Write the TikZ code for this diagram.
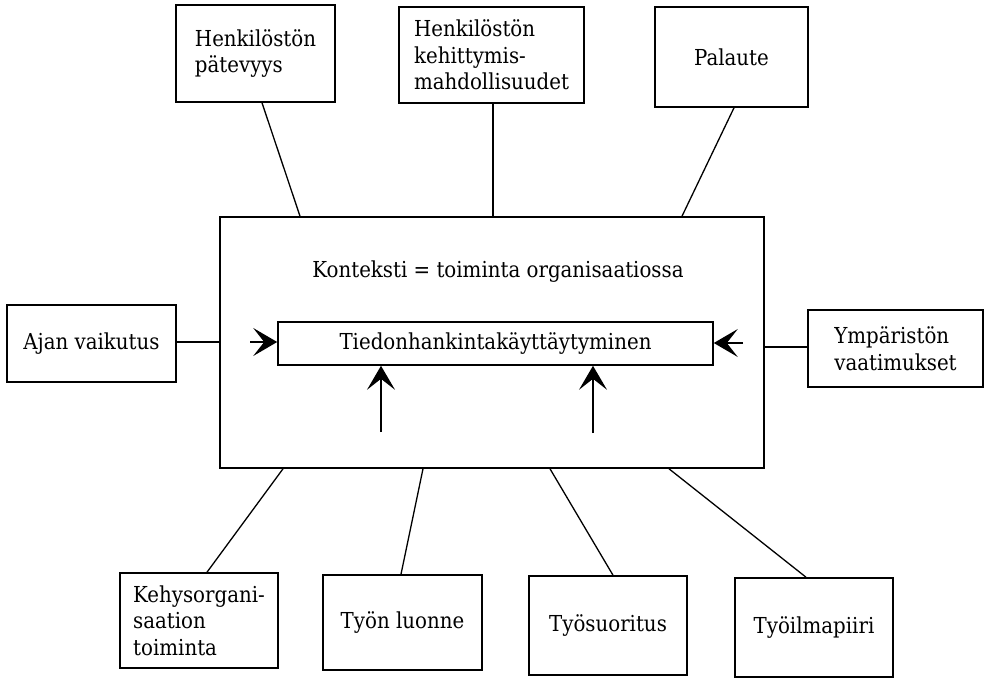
\documentclass[tikz,border=0pt]{standalone}
\usepackage{fontspec}
\setmainfont{DejaVu Serif Condensed}
\usetikzlibrary{arrows.meta}
\begin{document}
\begin{tikzpicture}[x=1bp,y=-1bp,
  box/.style={draw,line width=1.6bp,inner sep=0pt,align=left,font=\fontsize{22bp}{26.5bp}\selectfont},
  conn/.style={line width=1.3bp},
  barb/.style={line width=1.3bp,-{Stealth[length=24bp,width=28bp,inset=11bp]}},
  lbl/.style={font=\fontsize{22bp}{26.5bp}\selectfont,inner sep=0pt}]
\useasboundingbox (0,0) rectangle (984,679);
% main context box
\node[box,minimum width=544bp,minimum height=251bp] (main) at (492,342.5) {};
\node[lbl] (title) at (498,272) {Konteksti = toiminta organisaatiossa};
\node[box,minimum width=435bp,minimum height=43bp,align=center] (inner) at (495.5,343.5) {Tiedonhankintakäyttäytyminen};
% top boxes
\node[box,minimum width=159bp,minimum height=97bp] (b1) at (255.5,53.5) {Henkilöstön\\pätevyys};
\node[box,minimum width=185bp,minimum height=96bp] (b2) at (491.5,55) {Henkilöstön\\kehittymis-\\mahdollisuudet};
\node[box,minimum width=153bp,minimum height=100bp] (b3) at (731.5,57) {Palaute};
% side boxes
\node[box,minimum width=169bp,minimum height=77bp] (ajan) at (91.5,343.5) {Ajan vaikutus};
\node[box,minimum width=175bp,minimum height=77bp] (ymp) at (895.5,348.5) {Ympäristön\\vaatimukset};
% bottom boxes
\node[box,minimum width=158bp,minimum height=95bp] (k1) at (199,620.5) {Kehysorgani-\\saation\\toiminta};
\node[box,minimum width=159bp,minimum height=95bp] (k2) at (402.5,622.5) {Työn luonne};
\node[box,minimum width=158bp,minimum height=99bp] (k3) at (608,625.5) {Työsuoritus};
\node[box,minimum width=158bp,minimum height=99bp] (k4) at (814,627.5) {Työilmapiiri};
% connectors top
\draw[conn] (b1.south -| 262,0) -- (main.north -| 300,0);
\draw[conn] (b2.south -| 493,0) -- (main.north -| 493,0);
\draw[conn] (b3.south -| 734,0) -- (main.north -| 682,0);
% side connectors
\draw[conn] (ajan.east |- 0,342) -- (main.west |- 0,342);
\draw[conn] (ymp.west |- 0,347) -- (main.east |- 0,347);
% bottom connectors
\draw[conn] (main.south -| 283,0) -- (k1.north -| 207,0);
\draw[conn] (main.south -| 423,0) -- (k2.north -| 401,0);
\draw[conn] (main.south -| 550,0) -- (k3.north -| 613,0);
\draw[conn] (main.south -| 669,0) -- (k4.north -| 806,0);
% arrows into inner box
\coordinate (al) at (250,342);
\coordinate (ar) at (743,343);
\coordinate (au1) at (381,432);
\coordinate (au2) at (593,433);
\draw[barb] (al) -- (inner.west |- al);
\draw[barb] (ar) -- (inner.east |- ar);
\draw[barb] (au1) -- (inner.south -| au1);
\draw[barb] (au2) -- (inner.south -| au2);
\end{tikzpicture}
\end{document}
